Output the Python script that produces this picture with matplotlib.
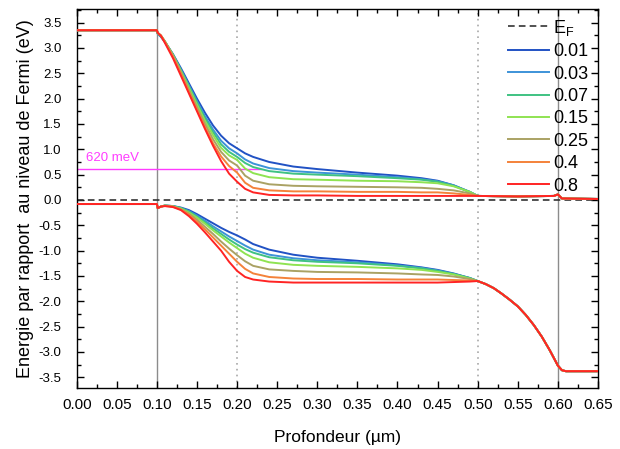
import numpy as np
import matplotlib
matplotlib.use("Agg")
import matplotlib.pyplot as plt
from matplotlib.ticker import MultipleLocator

plt.rcParams['font.family'] = ['Liberation Sans', 'DejaVu Sans']
plt.rcParams['mathtext.fontset'] = 'custom'
plt.rcParams['mathtext.rm'] = 'Liberation Sans'

# doping levels (legend labels) and colours
labels = ["0.01", "0.03", "0.07", "0.15", "0.25", "0.4", "0.8"]
colors = ["#2152c4", "#3d93d8", "#3fc282", "#8fe352", "#aaa264", "#f4823a", "#ff2424"]

# ---- conduction band ----
cb_head_x = [0.0, 0.1]
cb_head_y = [3.35, 3.35]
cb_mid_x = [0.101, 0.105, 0.11, 0.12, 0.13, 0.14, 0.15, 0.16, 0.17, 0.18, 0.19, 0.2,
            0.21, 0.22, 0.24, 0.27, 0.3, 0.35, 0.4, 0.43, 0.45, 0.47, 0.49]
cb_001 = [3.28, 3.22, 3.12, 2.88, 2.6, 2.3, 2.0, 1.72, 1.47, 1.27, 1.12, 1.02,
          0.92, 0.85, 0.75, 0.66, 0.61, 0.54, 0.48, 0.43, 0.38, 0.29, 0.16]
cb_003 = [3.28, 3.23, 3.12, 2.87, 2.57, 2.26, 1.95, 1.65, 1.39, 1.17, 1.02, 0.92,
          0.8, 0.72, 0.63, 0.57, 0.54, 0.5, 0.45, 0.41, 0.37, 0.29, 0.16]
cb_007 = [3.29, 3.24, 3.13, 2.87, 2.56, 2.24, 1.92, 1.61, 1.34, 1.1, 0.95, 0.85,
          0.73, 0.65, 0.57, 0.52, 0.5, 0.47, 0.43, 0.4, 0.36, 0.28, 0.16]
cb_015 = [3.29, 3.24, 3.13, 2.86, 2.54, 2.21, 1.88, 1.56, 1.28, 1.03, 0.88, 0.79,
          0.62, 0.53, 0.45, 0.41, 0.4, 0.38, 0.37, 0.35, 0.33, 0.27, 0.16]
cb_025 = [3.3, 3.25, 3.13, 2.85, 2.52, 2.17, 1.83, 1.5, 1.2, 0.95, 0.78, 0.68,
          0.48, 0.38, 0.31, 0.28, 0.27, 0.26, 0.25, 0.24, 0.22, 0.19, 0.13]
cb_04 = [3.3, 3.25, 3.12, 2.83, 2.49, 2.13, 1.78, 1.44, 1.12, 0.86, 0.67, 0.54,
         0.34, 0.24, 0.19, 0.17, 0.17, 0.16, 0.16, 0.15, 0.15, 0.13, 0.1]
cb_08 = [3.3, 3.24, 3.1, 2.8, 2.45, 2.1, 1.75, 1.4, 1.07, 0.77, 0.52, 0.36,
         0.22, 0.15, 0.1, 0.09, 0.09, 0.08, 0.08, 0.08, 0.08, 0.08, 0.08]
cb_tail_x = [0.5, 0.55, 0.595, 0.6, 0.605, 0.65]
cb_tail_y = [0.08, 0.07, 0.08, 0.11, 0.03, 0.02]

# ---- valence band ----
vb_head_x = [0.0, 0.1, 0.101, 0.105]
vb_head_y = [-0.08, -0.08, -0.16, -0.13]
vb_mid_x = [0.11, 0.12, 0.13, 0.14, 0.15, 0.16, 0.17, 0.18, 0.19, 0.2, 0.21, 0.22,
            0.24, 0.27, 0.3, 0.35, 0.4, 0.43, 0.45, 0.47, 0.49]
vb_001 = [-0.11, -0.12, -0.15, -0.2, -0.28, -0.37, -0.46, -0.55, -0.63, -0.7, -0.78, -0.87,
          -0.98, -1.08, -1.14, -1.2, -1.27, -1.33, -1.38, -1.45, -1.54]
vb_003 = [-0.11, -0.12, -0.16, -0.22, -0.31, -0.41, -0.52, -0.62, -0.72, -0.81, -0.9, -0.98,
          -1.08, -1.15, -1.19, -1.23, -1.29, -1.34, -1.39, -1.46, -1.54]
vb_007 = [-0.11, -0.12, -0.16, -0.23, -0.33, -0.44, -0.56, -0.67, -0.78, -0.88, -0.97, -1.04,
          -1.13, -1.19, -1.22, -1.25, -1.3, -1.35, -1.4, -1.46, -1.54]
vb_015 = [-0.11, -0.13, -0.17, -0.25, -0.35, -0.47, -0.6, -0.72, -0.84, -0.95, -1.06, -1.14,
          -1.23, -1.28, -1.3, -1.32, -1.35, -1.38, -1.42, -1.47, -1.55]
vb_025 = [-0.11, -0.13, -0.18, -0.27, -0.39, -0.53, -0.67, -0.82, -0.96, -1.09, -1.21, -1.3,
          -1.37, -1.4, -1.42, -1.43, -1.45, -1.47, -1.48, -1.51, -1.56]
vb_04 = [-0.12, -0.13, -0.19, -0.29, -0.43, -0.58, -0.74, -0.9, -1.06, -1.22, -1.36, -1.45,
         -1.52, -1.55, -1.56, -1.56, -1.57, -1.57, -1.57, -1.58, -1.59]
vb_08 = [-0.12, -0.14, -0.2, -0.32, -0.47, -0.64, -0.82, -1.0, -1.22, -1.4, -1.52, -1.57,
         -1.61, -1.63, -1.63, -1.63, -1.63, -1.63, -1.63, -1.62, -1.61]
vb_tail_x = [0.5, 0.51, 0.52, 0.53, 0.54, 0.55, 0.56, 0.57, 0.58, 0.59, 0.6, 0.605, 0.61, 0.65]
vb_tail_y = [-1.6, -1.66, -1.74, -1.85, -1.97, -2.1, -2.27, -2.47, -2.7, -2.97, -3.27, -3.36,
             -3.38, -3.38]

cb_mids = [cb_001, cb_003, cb_007, cb_015, cb_025, cb_04, cb_08]
vb_mids = [vb_001, vb_003, vb_007, vb_015, vb_025, vb_04, vb_08]

solid_lines = [0.1, 0.6]
dotted_lines = [0.2, 0.5]
mark_energy = 0.62

fig = plt.figure(figsize=(6.2, 4.49), dpi=100)
ax = fig.add_axes([0.1237, 0.136, 0.8408, 0.844])

for xv in solid_lines:
    ax.axvline(xv, color="#8c8c8c", lw=1.0, zorder=1)
for xv in dotted_lines:
    ax.axvline(xv, color="#a8a8a8", lw=1.2, ls=(0, (1, 2.5)), zorder=1)

ef_line, = ax.plot([0, 0.65], [0, 0], color="#333333", lw=1.2, ls=(0, (4, 2.5)),
                   label=r"E$_{\mathregular{F}}$", zorder=2)

ax.plot([0, 0.23], [mark_energy, mark_energy], color="#ff3cff", lw=1.0, zorder=2)
ax.text(0.012, 0.83, "620 meV", color="#ff3cff", fontsize=9.5, va="center", ha="left")

handles = [ef_line]
for i in range(len(labels)):
    xc = cb_head_x + cb_mid_x + cb_tail_x
    yc = cb_head_y + cb_mids[i] + cb_tail_y
    xv = vb_head_x + vb_mid_x + vb_tail_x
    yv = vb_head_y + vb_mids[i] + vb_tail_y
    h, = ax.plot(xc, yc, color=colors[i], lw=1.4, label=labels[i], zorder=3 + i)
    ax.plot(xv, yv, color=colors[i], lw=1.4, zorder=3 + i)
    handles.append(h)

ax.set_xlim(0, 0.65)
ax.set_ylim(-3.71, 3.77)
ax.xaxis.set_minor_locator(MultipleLocator(0.025))
ax.yaxis.set_minor_locator(MultipleLocator(0.25))
ax.set_xticks(np.arange(0, 0.651, 0.05))
ax.set_xticklabels(["%.2f" % v for v in np.arange(0, 0.651, 0.05)])
ax.set_yticks(np.arange(-3.5, 3.51, 0.5))
ax.set_yticklabels(["%.1f" % v if abs(v) > 1e-9 else "0.0" for v in np.arange(-3.5, 3.51, 0.5)])
ax.tick_params(which="both", direction="in", top=True, right=True, width=1.0)
ax.tick_params(which="major", length=5)
ax.tick_params(which="minor", length=3)
ax.tick_params(axis="x", labelsize=11, pad=7)
ax.tick_params(axis="y", labelsize=9.5, pad=11)
for s in ax.spines.values():
    s.set_linewidth(1.0)

ax.set_xlabel("Profondeur (µm)", fontsize=12.5, labelpad=13)
ax.set_ylabel("Energie par rapport  au niveau de Fermi (eV)", fontsize=13, labelpad=3)

ax.legend(handles=handles, loc="upper left", bbox_to_anchor=(0.827, 0.977), frameon=False,
          fontsize=13, borderpad=0, handlelength=2.3, handletextpad=0.2, labelspacing=0.3,
          borderaxespad=0)

fig.savefig("out.png", dpi=100)
